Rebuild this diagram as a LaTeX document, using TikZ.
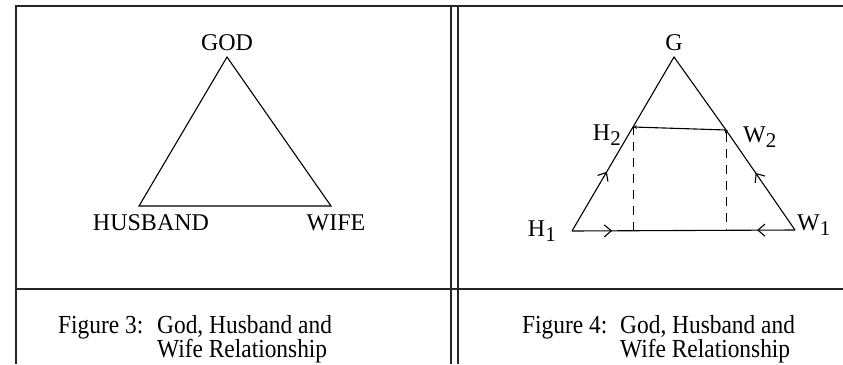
\documentclass[tikz,border=0pt]{standalone}
\usepackage{fontspec}
\usepackage{graphicx}
\setmainfont{Liberation Serif}
\usetikzlibrary{arrows.meta,decorations.markings}
\newcommand{\subl}[2]{#1\raisebox{-5pt}{\fontsize{21}{21}\selectfont #2}}
\newcommand{\narrow}[1]{\scalebox{0.9}[1]{#1}}
\newcommand{\capfont}{\fontsize{26}{24}\selectfont\lineskiplimit-20pt\relax}
\tikzset{barb/.tip={Straight Barb[length=7pt,width=12pt]},
    nib/.tip={Stealth[length=4pt,width=3.5pt]}}

\begin{document}
\begin{tikzpicture}[x=1pt, y=-1pt,
    lbl/.style={font=\fontsize{24}{28}\selectfont, inner sep=0pt},
    captxt/.style={font=\capfont, inner sep=0pt, align=left},
    frame/.style={line width=1.6pt, color=black!85},
    side/.style={line width=1.1pt},
    drop/.style={line width=0.9pt, dash pattern=on 9pt off 7pt},
    midbarb/.style={postaction={decorate}, decoration={markings, mark=at position #1 with {\arrow{barb}}}}]
    \useasboundingbox (0,0) rectangle (843,364);
    % table rules
    \draw[frame] (16,364) -- (16,6) -- (843,6);
    \draw[frame] (16,289) -- (843,289);
    \draw[frame] (451,6) -- (451,364);
    \draw[frame] (458,6) -- (458,364);
    % figure 3
    \coordinate (god) at (227,57);
    \coordinate (hus) at (139,206);
    \coordinate (wif) at (331,206);
    \draw[side] (god) -- (hus) -- (wif) -- cycle;
    \node[lbl, anchor=base] (godl) at (227,50) {GOD};
    \node[lbl, anchor=base] (husl) at (151,230) {HUSBAND};
    \node[lbl, anchor=base] (wifl) at (336,230) {WIFE};
    % figure 4
    \coordinate (g) at (674,57);
    \coordinate (h1) at (572,231);
    \coordinate (w1) at (795,230);
    \coordinate (h2) at (633,127);
    \coordinate (w2) at (726,130);
    \draw[side] (h2) -- (g) -- (w2);
    \draw[side, midbarb=0.57] (h1) -- (h2);
    \draw[side, midbarb=0.57] (w1) -- (w2);
    \draw[side, -{nib}] (w2) -- (h2);
    \draw[side, postaction={decorate}, decoration={markings,
        mark=at position 0.18 with {\arrow{barb}},
        mark=at position 0.83 with {\arrowreversed{barb}}}] (h1) -- (w1);
    \draw[drop] (h2 |- h1) -- (h2);
    \draw[drop, {nib[reversed]}-] (w2) -- (w2 |- w1);
    \node[lbl, anchor=base] (gl) at (674,50) {G};
    \node[lbl, anchor=base east] (h2l) at (621,140) {\subl{H}{2}};
    \node[lbl, anchor=base west] (w2l) at (743,142) {\subl{W}{2}};
    \node[lbl, anchor=base east] (h1l) at (556,236) {\subl{H}{1}};
    \node[lbl, anchor=base west] (w1l) at (797,230) {\subl{W}{1}};
    % captions
    \node[captxt, anchor=base west] (fig3) at (58,333) {\narrow{Figure 3:}};
    \node[captxt, anchor=north west] (cap3) at (157,315) {\narrow{God, Husband and}\\\narrow{Wife Relationship}};
    \node[captxt, anchor=base west] (fig4) at (522,333) {\narrow{Figure 4:}};
    \node[captxt, anchor=north west] (cap4) at (620,315) {\narrow{God, Husband and}\\\narrow{Wife Relationship}};
\end{tikzpicture}
\end{document}
